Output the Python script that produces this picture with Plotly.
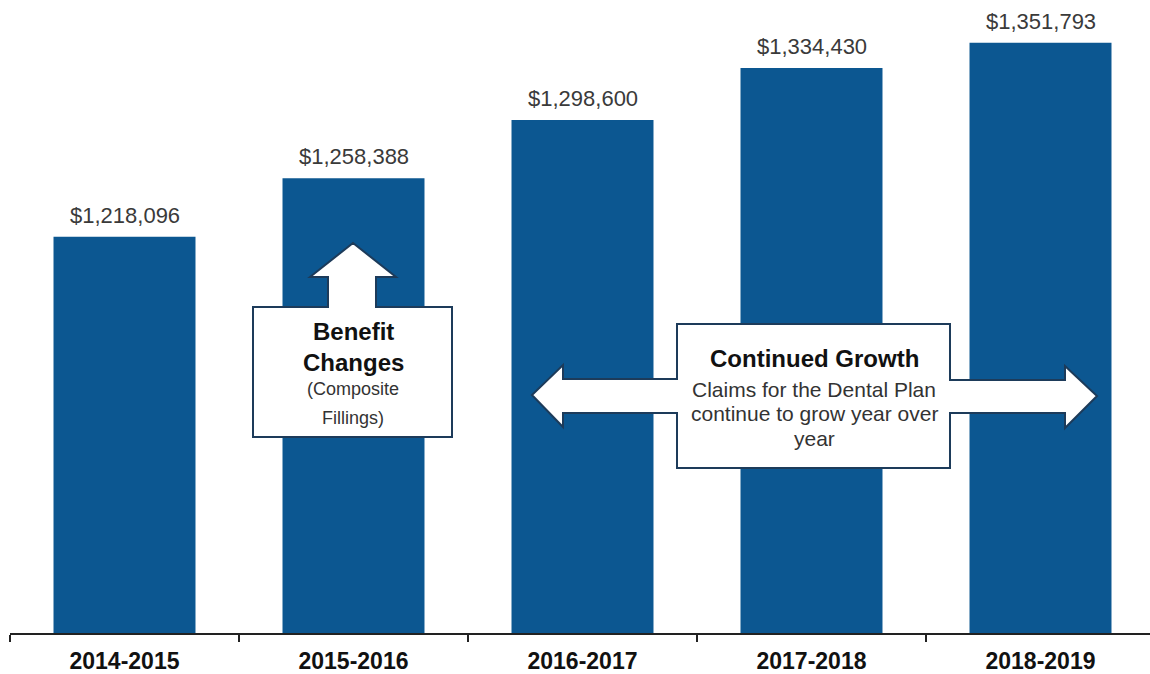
import plotly.graph_objects as go

# Dental plan claims by plan year
periods = ["2014-2015", "2015-2016", "2016-2017", "2017-2018", "2018-2019"]
claims = [1218096, 1258388, 1298600, 1334430, 1351793]

callout_benefit = ["Benefit", "Changes", "(Composite", "Fillings)"]
callout_growth = ["Continued Growth", "Claims for the Dental Plan",
                  "continue to grow year over", "year"]

BAR = "#0c5791"
OUTLINE = "#1d3b5a"
FONT = "Liberation Sans, Arial, sans-serif"

W, H = 1150, 674
M_L, M_R, M_T, M_B = 10, 0, 0, 41
PW, PH = W - M_L - M_R, H - M_T - M_B
SLOT = 229               # pixels per category slot
Y0 = 945000              # value at the axis line
PX_PER_DOLLAR = 0.001451

x_range = [-0.5, -0.5 + PW / SLOT]
y_range = [Y0, Y0 + PH / PX_PER_DOLLAR]


def xp(px):
    return (px - M_L) / PW


def yp(py):
    return (M_T + PH - py) / PH


def outline_path(points):
    return "M " + " L ".join(f"{xp(x):.5f},{yp(y):.5f}" for x, y in points) + " Z"


fig = go.Figure(
    go.Bar(
        x=periods,
        y=claims,
        width=0.62,
        marker=dict(color=BAR, line=dict(width=0)),
        hoverinfo="skip",
    )
)

# value labels above each bar
annotations = [
    dict(x=p, y=v, xref="x", yref="y", text=f"${v:,}", showarrow=False,
         yanchor="bottom", yshift=7,
         font=dict(family=FONT, size=22, color="#3a3a3a"))
    for p, v in zip(periods, claims)
]

# "Benefit Changes" callout: up arrow joined to a box
benefit_pts = [(253, 307), (328, 307), (328, 277), (310, 277), (353, 243),
               (396, 277), (376, 277), (376, 307), (452, 307), (452, 437),
               (253, 437)]
# "Continued Growth" callout: box with a two-headed arrow through it
growth_pts = [(677, 324), (950, 324), (950, 380), (1065, 380), (1065, 366),
              (1097, 396), (1065, 428), (1065, 413), (950, 413), (950, 468),
              (677, 468), (677, 413), (563, 413), (563, 427), (532, 395),
              (563, 365), (563, 379), (677, 379)]

shapes = [
    dict(type="path", xref="paper", yref="paper", path=outline_path(pts),
         fillcolor="white", line=dict(color=OUTLINE, width=2), layer="above")
    for pts in (benefit_pts, growth_pts)
]

benefit_rows = [(332, True, 24), (362, True, 24), (389, False, 18), (418, False, 18)]
for text, (cy, bold, size) in zip(callout_benefit, benefit_rows):
    annotations.append(dict(
        x=xp(353), y=yp(cy), xref="paper", yref="paper",
        text=f"<b>{text}</b>" if bold else text, showarrow=False,
        xanchor="center", yanchor="middle",
        font=dict(family=FONT, size=size, color="#111111" if bold else "#333333")))

growth_rows = [(358, True, 24), (389, False, 21), (413, False, 21), (438, False, 21)]
for text, (cy, bold, size) in zip(callout_growth, growth_rows):
    annotations.append(dict(
        x=xp(814), y=yp(cy), xref="paper", yref="paper",
        text=f"<b>{text}</b>" if bold else text, showarrow=False,
        xanchor="center", yanchor="middle",
        font=dict(family=FONT, size=size, color="#111111" if bold else "#333333")))

fig.update_layout(
    width=W, height=H,
    margin=dict(l=M_L, r=M_R, t=M_T, b=M_B, pad=0),
    paper_bgcolor="white", plot_bgcolor="white",
    showlegend=False,
    bargap=0.38,
    annotations=annotations,
    shapes=shapes,
    xaxis=dict(
        type="category", range=x_range, tickson="boundaries",
        showline=True, linecolor="#222222", linewidth=1.5,
        ticks="outside", ticklen=7, tickwidth=1.5, tickcolor="#222222",
        ticklabelstandoff=7,
        showgrid=False, zeroline=False,
        tickfont=dict(family=FONT, size=23, color="#111111", weight="bold"),
    ),
    yaxis=dict(range=y_range, visible=False, showgrid=False, zeroline=False),
)

fig.write_html("out.html")
